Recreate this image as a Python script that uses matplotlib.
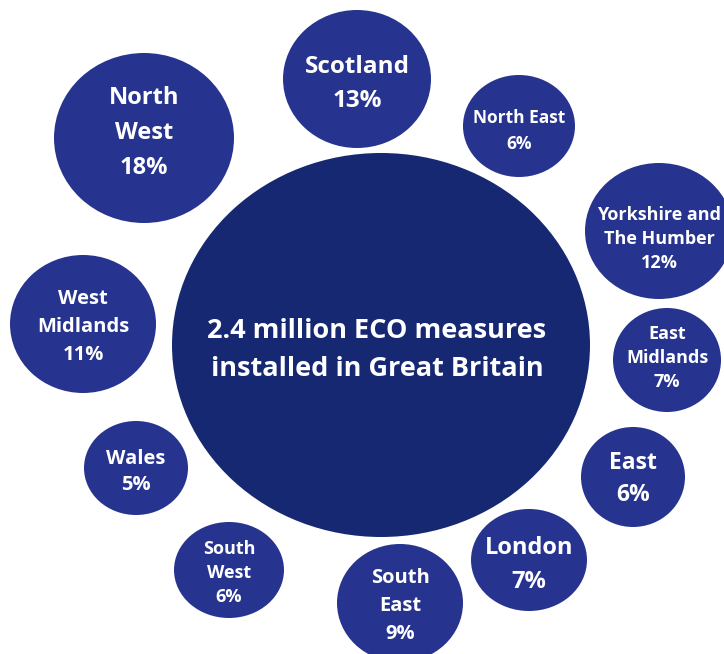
import matplotlib.pyplot as plt
from matplotlib.patches import Ellipse

# data
regions = ['North\nWest', 'Scotland', 'North East', 'Yorkshire and\nThe Humber',
           'East\nMidlands', 'East', 'London', 'South\nEast', 'South\nWest',
           'Wales', 'West\nMidlands']
shares = [18, 13, 6, 12, 7, 6, 7, 9, 6, 5, 11]
centre_text = '2.4 million ECO measures\ninstalled in Great Britain'

# layout (pixel coords, y down): centre x, centre y, width, height, font size, text y
layout = [
    (144, 138, 180, 170, 17, 133),
    (357, 79, 148, 138, 17.5, 84),
    (519, 126, 112, 102, 12.5, 131),
    (659, 231, 148, 136, 13, 239),
    (667, 360, 108, 104, 13, 358),
    (633, 477, 104, 100, 16.5, 479),
    (529, 560, 116, 102, 17, 565),
    (400, 603, 126, 118, 14.5, 606),
    (229, 570, 110, 96, 13, 573),
    (136, 468, 104, 94, 14.5, 472),
    (83, 324, 146, 138, 14.5, 327),
]
spacing = [1.6, 1.55, 1.6, 1.45, 1.45, 1.45, 1.55, 1.55, 1.45, 1.45, 1.55]

small_col = '#27348f'
big_col = '#172872'
font = ['Open Sans', 'DejaVu Sans']

fig = plt.figure(figsize=(7.24, 6.54), dpi=100)
ax = fig.add_axes([0, 0, 1, 1])
ax.set_xlim(0, 724)
ax.set_ylim(654, 0)
ax.axis('off')

ax.add_patch(Ellipse((381, 345), 418, 384, color=big_col, lw=0))
ax.text(377, 350, centre_text, ha='center', va='center', color='white',
        fontsize=19.5, fontweight='bold', family=font, linespacing=1.55)

for name, pct, (cx, cy, w, h, fs, ty), ls in zip(regions, shares, layout, spacing):
    ax.add_patch(Ellipse((cx, cy), w, h, color=small_col, lw=0))
    ax.text(cx, ty, f'{name}\n{pct}%', ha='center', va='center', color='white',
            fontsize=fs, fontweight='bold', family=font, linespacing=ls)

plt.savefig('out.png', dpi=100)
